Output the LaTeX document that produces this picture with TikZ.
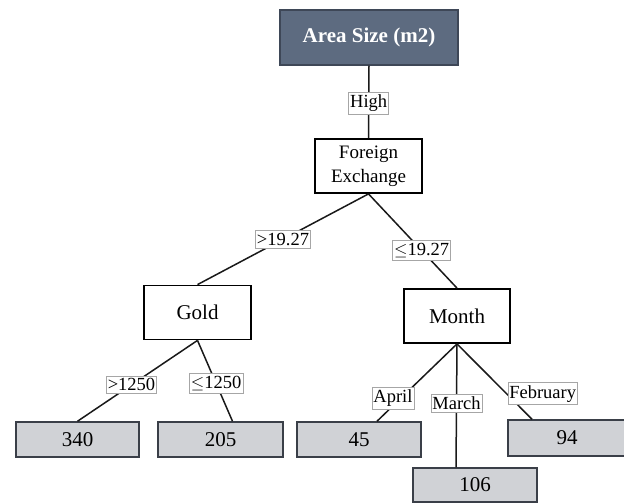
\documentclass[tikz,border=0pt]{standalone}
\usepackage{fontspec}
\setmainfont{Liberation Serif}
\usepackage{amssymb}
\usetikzlibrary{positioning}

\definecolor{rootfill}{HTML}{5D6B80}
\definecolor{rootline}{HTML}{3E4757}
\definecolor{leaffill}{HTML}{D0D2D6}
\definecolor{leafline}{HTML}{3A3F48}

\tikzset{
  rootbox/.style={draw=rootline, fill=rootfill, line width=1.5pt, text=white,
    font=\fontsize{21}{24}\selectfont\bfseries, minimum width=178pt, minimum height=55pt},
  splitbox/.style={draw=black, fill=white, line width=1.8pt,
    font=\fontsize{21}{24}\selectfont, align=center, minimum width=107pt, minimum height=54pt},
  leafbox/.style={draw=leafline, fill=leaffill, line width=1.5pt,
    font=\fontsize{21}{24}\selectfont, minimum width=124pt, minimum height=35pt},
  cutlabel/.style={draw=black!35, fill=white, line width=0.5pt, inner xsep=1.5pt, inner ysep=2.5pt,
    font=\fontsize{18.5}{20}\selectfont},
  branch/.style={draw=black!90, line width=1.5pt}
}

\begin{document}
\begin{tikzpicture}[x=1pt, y=-1pt]
\useasboundingbox (0,0) rectangle (624,503);
% split nodes
\node [rootbox] (area) at (369,37.5) {Area Size (m2)};
\node [splitbox, font=\fontsize{19}{24}\selectfont] (fx) at (368.5,166) {Foreign\\Exchange};
\node [splitbox] (gold) at (197.5,312.5) {Gold};
\node [splitbox, minimum width=106pt] (month) at (457,316) {Month};
% leaves
\node [leafbox, minimum width=123pt] (v340) at (77.5,439.5) {340};
\node [leafbox, minimum width=125pt] (v205) at (220.5,439.5) {205};
\node [leafbox] (v45) at (359,439.5) {45};
\node [leafbox, minimum width=118pt, minimum height=36pt] (v94) at (567,438) {94};
\node [leafbox, minimum height=34pt] (v106) at (475,485) {106};
% branches
\draw [branch] (area.south) -- (fx.north) node [cutlabel, pos=0.52] {High};
\draw [branch] (fx.south) -- (gold.north) node [cutlabel, pos=0.5] {>19.27};
\draw [branch] (fx.south) -- (month.north) node [cutlabel, pos=0.6] {$\leq$19.27};
\draw [branch] (gold.south) -- (v340.north) node [cutlabel, pos=0.55] {>1250};
\draw [branch] (gold.south) -- ([xshift=12pt]v205.north) node [cutlabel, pos=0.53] {$\leq$1250};
\draw [branch] (month.south) -- ([xshift=18pt]v45.north) node [cutlabel, pos=0.7, xshift=-8pt] {April};
\draw [branch] (month.south) -- ([xshift=-19pt]v106.north) node [cutlabel, pos=0.48] {March};
\draw [branch] (month.south) -- ([xshift=-35pt]v94.north) node [cutlabel, pos=0.66, anchor=west, xshift=1pt] {February};
\end{tikzpicture}
\end{document}
